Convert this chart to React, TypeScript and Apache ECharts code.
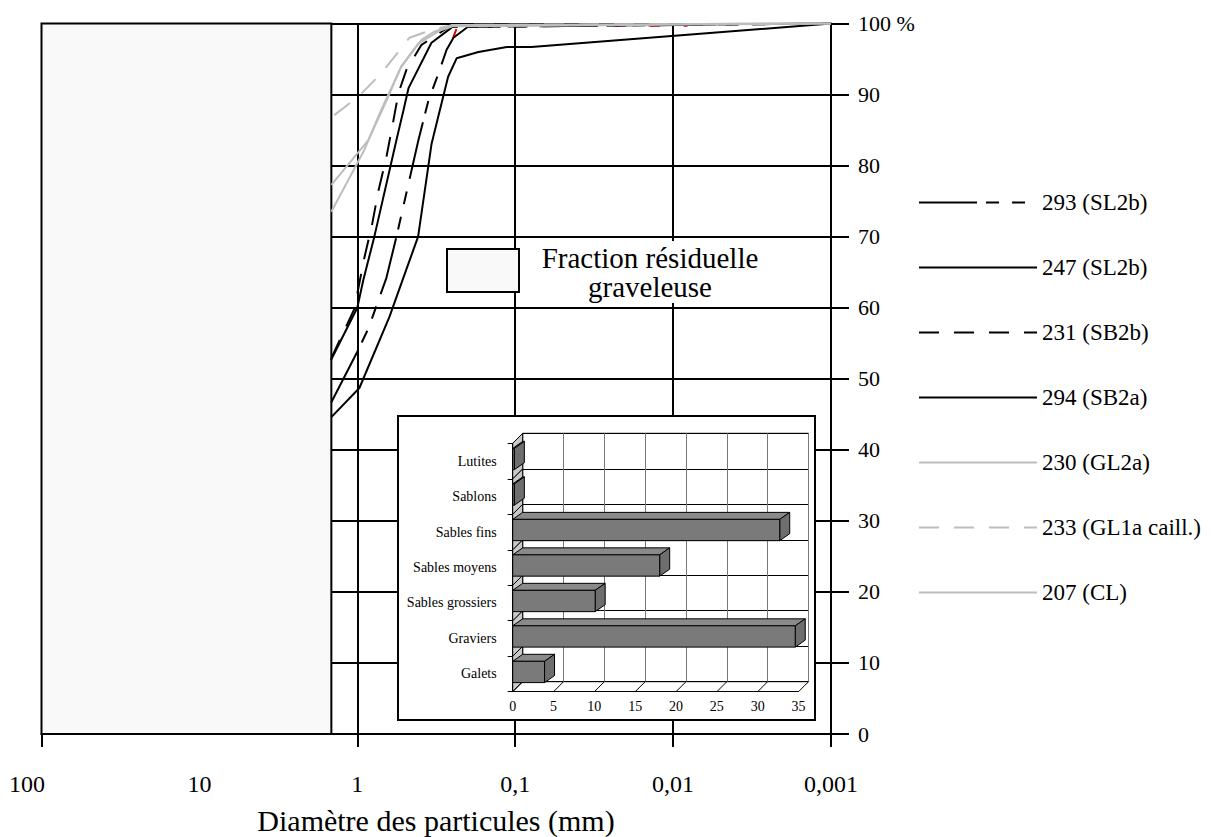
import React, { useEffect, useRef } from 'react';
import * as echarts from 'echarts';

const FONT = '"Liberation Serif", "Times New Roman", serif';

// Main granulometric chart
const xTickLabels = ['0,001', '0,01', '0,1', '1', '10', '100'];
const xTickValues = [100, 1, 0.1, 0.01, 0.001];
const residualLimit = 1.46; // mm, limit of the residual gravel fraction

const s293 = [[1.46, 46.7], [1, 53.8], [0.85, 57.1], [0.654, 64.2], [0.565, 70.0], [0.41, 83.6], [0.354, 89.2], [0.306, 93.0], [0.272, 96.3], [0.246, 98.0], [0.2, 99.5], [0.001, 100]];
const s247 = [[1.47, 52.6], [1, 60.0], [0.916, 63.9], [0.78, 70.0], [0.565, 83.6], [0.51, 87.8], [0.474, 90.9], [0.339, 97.3], [0.264, 99.1], [0.242, 99.8], [0.001, 100]];
const s231 = [[1.46, 52.9], [1.045, 59.8], [0.903, 67.0], [0.803, 71.9], [0.736, 76.4], [0.654, 81.2], [0.59, 86.4], [0.549, 90.2], [0.488, 93.5], [0.392, 97.0], [0.264, 99.5], [0.001, 100]];
const s294 = [[1.46, 44.6], [0.97, 48.7], [0.626, 58.7], [0.496, 65.0], [0.412, 70.0], [0.339, 83.0], [0.307, 86.9], [0.266, 92.5], [0.235, 95.1], [0.171, 96.0], [0.113, 96.7], [0.079, 96.7], [0.001, 100]];
const s230 = [[1.46, 77.3], [0.851, 83.6], [0.654, 89.1], [0.526, 94.0], [0.467, 95.5], [0.392, 97.7], [0.329, 98.8], [0.248, 99.8], [0.001, 100]];
const s233 = [[1.4, 87.1], [0.985, 89.7], [0.704, 93.0], [0.467, 98.0], [0.329, 99.2], [0.246, 99.8], [0.001, 100]];
const s207 = [[1.46, 73.5], [0.903, 82.2], [0.7, 88.0], [0.53, 93.8], [0.41, 97.2], [0.3, 99.0], [0.25, 99.6], [0.001, 100]];
const sRed = [[0.248, 97.9], [0.235, 99.3], [0.209, 99.6], [0.0081, 99.7]];

const legendNames = ['293 (SL2b)', '247 (SL2b)', '231 (SB2b)', '294 (SB2a)', '230 (GL2a)', '233 (GL1a caill.)', '207 (CL)'];

// Inset bar chart
const grainCats = ['Galets', 'Graviers', 'Sables grossiers', 'Sables moyens', 'Sables fins', 'Sablons', 'Lutites'];
const grainValues = [3.9, 34.6, 10.1, 18.0, 32.7, 0.2, 0.2];
const insetTicks = [0, 5, 10, 15, 20, 25, 30, 35];

const BLACK = '#000';
const GRAY = '#bdbdbd';
const D = 10; // depth of inset walls

function lineSeries(name: string, data: number[][], color: string, type: any, z: number) {
  return {
    name,
    type: 'line',
    data,
    xAxisIndex: 0,
    yAxisIndex: 0,
    symbol: 'none',
    showSymbol: false,
    z,
    lineStyle: { color, width: 2, type },
    itemStyle: { color },
  };
}

export default function App() {
  const ref = useRef<HTMLDivElement>(null);
  useEffect(() => {
    if (!ref.current) return;
    const chart = echarts.init(ref.current, null, { renderer: 'svg' });

    const frontGrid = { left: 512.7, top: 443.3, width: 285.8, height: 248.4 };

    const option: any = {
      animation: false,
      backgroundColor: '#fff',
      textStyle: { fontFamily: FONT },
      grid: [
        { left: 41.5, top: 23.5, width: 789.5, height: 710.5, outerBoundsMode: 'none', containLabel: false },
        {
          left: frontGrid.left + D, top: frontGrid.top - D, width: frontGrid.width, height: frontGrid.height,
          show: true, backgroundColor: '#fff', borderColor: BLACK, borderWidth: 1, z: 6, outerBoundsMode: 'none', containLabel: false,
        },
        { ...frontGrid, outerBoundsMode: 'none', containLabel: false, z: 9 },
      ],
      xAxis: [
        {
          gridIndex: 0, type: 'log', logBase: 10, min: 0.001, max: 100, inverse: true,
          axisLine: { show: true, lineStyle: { color: BLACK, width: 2 } },
          axisTick: { show: true, length: 13, lineStyle: { color: BLACK, width: 2 }, customValues: xTickValues },
          axisLabel: {
            show: true, margin: 38, color: BLACK, fontFamily: FONT, fontSize: 24, showMinLabel: true, showMaxLabel: true,
            formatter: (v: number) => {
              const t = xTickLabels[Math.round(Math.log10(v)) + 3];
              return t === '100' ? '{shift|' + t + '}' : t;
            },
            rich: { shift: { fontFamily: FONT, fontSize: 24, color: BLACK, padding: [0, 29, 0, 0] } },
          },
          splitLine: { show: true, lineStyle: { color: BLACK, width: 2 } },
          minorTick: { show: false }, minorSplitLine: { show: false },
        },
        {
          gridIndex: 1, type: 'value', min: 0, max: 35, interval: 5, z: 6,
          axisLine: { show: false }, axisTick: { show: false }, axisLabel: { show: false },
          splitLine: { show: true, lineStyle: { color: '#777', width: 1 } },
        },
        {
          gridIndex: 2, type: 'value', min: 0, max: 35, interval: 5, z: 9,
          axisLine: { show: true, lineStyle: { color: BLACK, width: 1 } },
          axisTick: { show: false },
          axisLabel: { show: true, margin: 8, color: BLACK, fontFamily: FONT, fontSize: 14 },
          splitLine: { show: false },
        },
      ],
      yAxis: [
        {
          gridIndex: 0, type: 'value', position: 'right', min: 0, max: 100, interval: 10,
          axisLine: { show: true, lineStyle: { color: BLACK, width: 2 } },
          axisTick: { show: true, length: 18, inside: false, lineStyle: { color: BLACK, width: 2 } },
          axisLabel: {
            show: true, margin: 27, color: BLACK, fontFamily: FONT, fontSize: 22,
            formatter: (v: number) => (v === 100 ? '100 %' : String(v)),
          },
          splitLine: { show: true, lineStyle: { color: BLACK, width: 2 } },
        },
        {
          gridIndex: 1, type: 'category', data: grainCats, z: 6,
          axisLine: { show: false }, axisTick: { show: false }, axisLabel: { show: false },
          splitLine: { show: true, interval: 0, lineStyle: { color: BLACK, width: 1 } },
        },
        {
          gridIndex: 2, type: 'category', data: grainCats, z: 9,
          axisLine: { show: true, lineStyle: { color: BLACK, width: 1 } },
          axisTick: { show: true, length: 5, interval: 0, lineStyle: { color: BLACK, width: 1 } },
          axisLabel: { show: true, interval: 0, margin: 16, color: BLACK, fontFamily: FONT, fontSize: 14 },
          splitLine: { show: false },
        },
      ],
      legend: {
        orient: 'vertical', left: 913, top: 186, itemWidth: 118, itemHeight: 14, itemGap: 42,
        selectedMode: false, data: legendNames,
        itemStyle: { opacity: 0, borderWidth: 0 },
        textStyle: { color: BLACK, fontFamily: FONT, fontSize: 23 },
      },
      graphic: [
        {
          type: 'rect', z: 5,
          shape: { x: 398, y: 416, width: 417, height: 304 },
          style: { fill: '#fff', stroke: BLACK, lineWidth: 2 },
        },
        {
          type: 'rect', z: 5,
          shape: { x: 447, y: 249, width: 72, height: 43 },
          style: { fill: '#f9f9f9', stroke: BLACK, lineWidth: 2 },
        },
        {
          type: 'text', z: 5, x: 650, y: 272,
          style: {
            text: 'Fraction résiduelle\ngraveleuse', fontFamily: FONT, fontSize: 29, lineHeight: 29,
            fill: BLACK, align: 'center', verticalAlign: 'middle', backgroundColor: '#fff', padding: [2, 4],
          },
        },
        {
          type: 'text', z: 5, x: 436, y: 820,
          style: {
            text: 'Diamètre des particules (mm)', fontFamily: FONT, fontSize: 30,
            fill: BLACK, align: 'center', verticalAlign: 'middle',
          },
        },
      ],
      series: [
        {
          name: 'residual', type: 'custom', xAxisIndex: 0, yAxisIndex: 0, z: 1,
          data: [[100, residualLimit]],
          renderItem: (params: any, api: any) => {
            const p0 = api.coord([api.value(0), 100]);
            const p1 = api.coord([api.value(1), 0]);
            return {
              type: 'rect',
              shape: { x: p0[0], y: p0[1], width: p1[0] - p0[0], height: p1[1] - p0[1] },
              style: { fill: '#f9f9f9', stroke: BLACK, lineWidth: 2 },
            };
          },
        },
        lineSeries('', sRed, '#e00000', [10, 24], 2),
        lineSeries('293 (SL2b)', s293, BLACK, [58, 9, 13, 13, 13, 13], 3),
        lineSeries('247 (SL2b)', s247, BLACK, 'solid', 3),
        lineSeries('231 (SB2b)', s231, BLACK, [20, 15], 3),
        lineSeries('294 (SB2a)', s294, BLACK, 'solid', 3),
        lineSeries('230 (GL2a)', s230, GRAY, 'solid', 4),
        lineSeries('233 (GL1a caill.)', s233, GRAY, [20, 15], 4),
        lineSeries('207 (CL)', s207, GRAY, 'solid', 4),
        {
          name: 'wall', type: 'custom', xAxisIndex: 2, yAxisIndex: 2, z: 7,
          data: grainCats.map((_, i) => [0, i]),
          encode: { x: 0, y: 1 },
          renderItem: (params: any, api: any) => {
            const c = api.coord([api.value(0), api.value(1)]);
            const band = api.size([0, 1])[1];
            const top = c[1] - band / 2;
            const bot = c[1] + band / 2;
            const x = c[0];
            return {
              type: 'polygon',
              shape: { points: [[x, top], [x + D, top - D], [x + D, bot - D], [x, bot]] },
              style: { fill: '#c8c8c8', stroke: BLACK, lineWidth: 1 },
            };
          },
        },
        {
          name: 'floor', type: 'custom', xAxisIndex: 2, yAxisIndex: 2, z: 7,
          data: insetTicks.map((v) => [v, 0]),
          encode: { x: 0, y: 1 },
          renderItem: (params: any, api: any) => {
            const c = api.coord([api.value(0), api.value(1)]);
            const band = api.size([0, 1])[1];
            const bot = c[1] + band / 2;
            return {
              type: 'line',
              shape: { x1: c[0], y1: bot, x2: c[0] + D, y2: bot - D },
              style: { stroke: BLACK, lineWidth: 1 },
            };
          },
        },
        {
          name: 'bars', type: 'custom', xAxisIndex: 2, yAxisIndex: 2, z: 8,
          data: grainValues.map((v, i) => [v, i]),
          encode: { x: 0, y: 1 },
          renderItem: (params: any, api: any) => {
            const v = api.value(0);
            const idx = api.value(1);
            const base = api.coord([0, idx]);
            const end = api.coord([v, idx]);
            const band = api.size([0, 1])[1];
            const h = band * 0.6;
            const yt = base[1] - h / 2 - 2;
            const yb = base[1] + h / 2 - 2;
            const x0 = base[0];
            const x1 = end[0];
            const dx = 10;
            const dy = 7;
            return {
              type: 'group',
              children: [
                {
                  type: 'polygon',
                  shape: { points: [[x0, yt], [x1, yt], [x1 + dx, yt - dy], [x0 + dx, yt - dy]] },
                  style: { fill: '#8a8a8a', stroke: BLACK, lineWidth: 1 },
                },
                {
                  type: 'polygon',
                  shape: { points: [[x1, yt], [x1 + dx, yt - dy], [x1 + dx, yb - dy], [x1, yb]] },
                  style: { fill: '#6e6e6e', stroke: BLACK, lineWidth: 1 },
                },
                {
                  type: 'rect',
                  shape: { x: x0, y: yt, width: x1 - x0, height: yb - yt },
                  style: { fill: '#7a7a7a', stroke: BLACK, lineWidth: 1 },
                },
              ],
            };
          },
        },
      ],
    };

    chart.setOption(option);
    return () => chart.dispose();
  }, []);

  return (
    <div
      ref={ref}
      style={{ position: 'absolute', left: 0, top: 0, width: 1211, height: 837, background: '#fff' }}
    />
  );
}
